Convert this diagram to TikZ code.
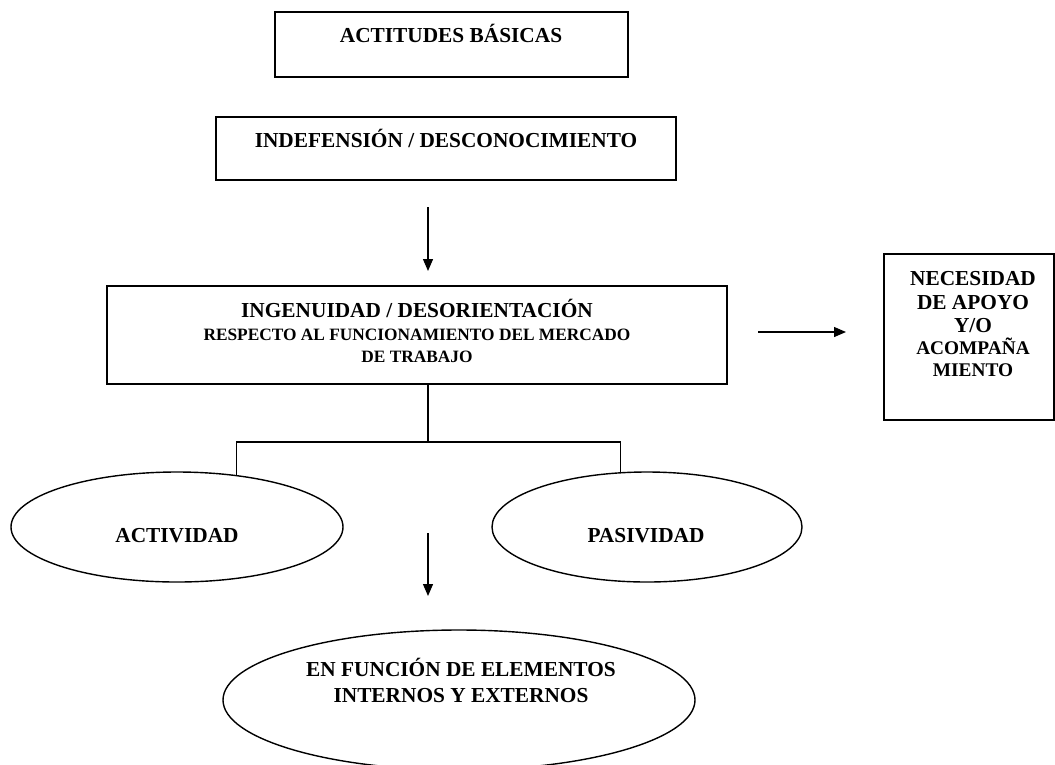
\documentclass[tikz,border=0pt]{standalone}
\usepackage{fontspec}
\setmainfont{Liberation Serif}
\usetikzlibrary{arrows.meta,shapes.geometric}
\begin{document}
\begin{tikzpicture}[x=0.75pt,y=-0.75pt,
  boxshape/.style={draw,line width=1.2pt,inner sep=0pt},
  ovalshape/.style={draw,ellipse,line width=1.05pt,inner sep=0pt},
  big/.style={font=\bfseries\fontsize{16}{19}\selectfont,inner sep=0pt,anchor=base},
  small/.style={font=\bfseries\fontsize{13}{16}\selectfont,inner sep=0pt,anchor=base},
  mid/.style={font=\bfseries\fontsize{14.5}{17}\selectfont,inner sep=0pt,anchor=base},
  link/.style={line width=0.95pt},
  arrowlink/.style={line width=0.95pt,-{Triangle[length=9pt,width=7.5pt]}}]
\useasboundingbox (0,0) rectangle (1055,764);
\fill[white] (0,0) rectangle (1055,764);

% boxes
\node[boxshape,minimum width=264.75pt,minimum height=48.75pt] (b1) at (451.5,44.5) {};
\node[boxshape,minimum width=345pt,minimum height=47.25pt] (b2) at (446,148.5) {};
\node[boxshape,minimum width=465pt,minimum height=73.5pt] (b3) at (417,335) {};
\node[boxshape,minimum width=127.5pt,minimum height=124.5pt] (b4) at (969,337) {};

% ellipses
\node[ovalshape,minimum width=249pt,minimum height=82.5pt] (e1) at (177,527) {};
\node[ovalshape,minimum width=232.5pt,minimum height=82.5pt] (e2) at (647,527) {};
\node[ovalshape,minimum width=354pt,minimum height=105pt] (e3) at (459,700) {};

% texts
\node[big] (t1) at (451,42) {ACTITUDES BÁSICAS};
\node[big] (t2) at (446,147) {INDEFENSIÓN / DESCONOCIMIENTO};
\node[big] (t3a) at (417,317) {INGENUIDAD / DESORIENTACIÓN};
\node[small] (t3b) at (417,340) {RESPECTO AL FUNCIONAMIENTO DEL MERCADO};
\node[small] (t3c) at (417,362) {DE TRABAJO};
\node[big] (t4a) at (973,285) {NECESIDAD};
\node[big] (t4b) at (973,309) {DE APOYO};
\node[big] (t4c) at (973,332) {Y/O};
\node[mid] (t4d) at (973,354) {ACOMPAÑA};
\node[mid] (t4e) at (973,376) {MIENTO};
\node[big] (t5) at (177,542) {ACTIVIDAD};
\node[big] (t6) at (646,542) {PASIVIDAD};
\node[big] (t7a) at (461,676) {EN FUNCIÓN DE ELEMENTOS};
\node[big] (t7b) at (461,702) {INTERNOS Y EXTERNOS};

% connectors
\coordinate (a1s) at (428,207);
\coordinate (a1e) at (428,271);
\draw[arrowlink] (a1s) -- (a1e);

\coordinate (a2s) at (758,332);
\coordinate (a2e) at (846,332);
\draw[arrowlink] (a2s) -- (a2e);

\coordinate (j) at (428,442);
\draw[link] (j |- b3.south) -- (j);
\draw[link] (e1.41.6) |- (j) -| (e2.116.5);

\coordinate (a3s) at (428,533);
\coordinate (a3e) at (428,596);
\draw[arrowlink] (a3s) -- (a3e);
\end{tikzpicture}
\end{document}
